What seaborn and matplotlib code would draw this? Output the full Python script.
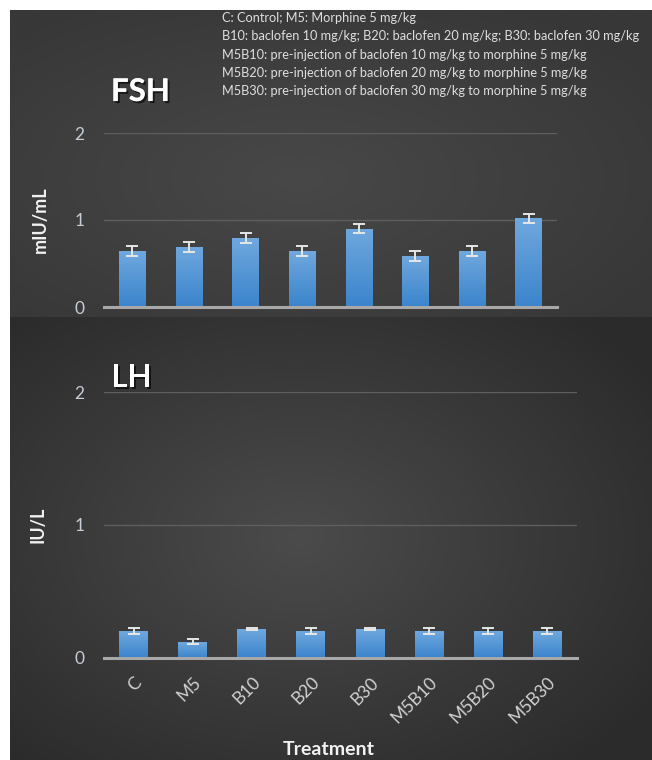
import numpy as np
import matplotlib
matplotlib.use("Agg")
import matplotlib.pyplot as plt
import matplotlib.colors as mcolors
import matplotlib.patheffects as pe
import seaborn as sns

# data
treatments = ["C", "M5", "B10", "B20", "B30", "M5B10", "M5B20", "M5B30"]
fsh_mean = [0.64, 0.69, 0.79, 0.64, 0.90, 0.585, 0.64, 1.02]
fsh_sem = [0.058, 0.056, 0.056, 0.058, 0.055, 0.056, 0.058, 0.052]
lh_mean = [0.20, 0.12, 0.213, 0.20, 0.213, 0.20, 0.20, 0.20]
lh_sem = [0.02, 0.018, 0.006, 0.02, 0.006, 0.02, 0.02, 0.02]
notes = [
    "C: Control; M5: Morphine 5 mg/kg",
    "B10: baclofen 10 mg/kg; B20: baclofen 20 mg/kg; B30: baclofen 30 mg/kg",
    "M5B10: pre-injection of baclofen 10 mg/kg to morphine 5 mg/kg",
    "M5B20: pre-injection of baclofen 20 mg/kg to morphine 5 mg/kg",
    "M5B30: pre-injection of baclofen 30 mg/kg to morphine 5 mg/kg",
]

plt.rcParams["font.family"] = ["Lato", "DejaVu Sans"]

W, H = 652, 760
fig = plt.figure(figsize=(W / 100, H / 100), dpi=100)
fig.patch.set_facecolor("white")


def px(x0, y0, x1, y1):
    # pixel box (top-left origin) -> figure fraction rect
    return [x0 / W, 1 - y1 / H, (x1 - x0) / W, (y1 - y0) / H]


def backdrop(box, inner, outer, cx=0.0, cy=0.0):
    bg = fig.add_axes(px(*box), zorder=0)
    yy, xx = np.mgrid[-1:1:300j, -1:1:300j]
    r = np.clip(np.sqrt((xx - cx) ** 2 + (yy - cy) ** 2) / 1.35, 0, 1)
    c0 = np.array(mcolors.to_rgb(inner))
    c1 = np.array(mcolors.to_rgb(outer))
    bg.imshow(c0 + (c1 - c0) * r[..., None], aspect="auto", extent=[0, 1, 0, 1])
    bg.axis("off")


backdrop((10, 10, 652, 317), "#484848", "#373737", cx=-0.1, cy=0.1)
backdrop((10, 317, 652, 760), "#4b4b4b", "#2b2b2b", cx=-0.1, cy=0.0)

grad = np.linspace(0, 1, 100)[:, None]
bar_cmap = mcolors.LinearSegmentedColormap.from_list("bar", ["#6fa8de", "#3b84cc"])


def panel(box, means, sems, width, ylabel, show_x):
    ax = fig.add_axes(px(*box), zorder=2)
    ax.patch.set_alpha(0)
    sns.barplot(x=treatments, y=means, color="#4f92d6", width=width,
                saturation=1, edgecolor="none", ax=ax)
    # gradient fill on each bar
    for bar in ax.patches:
        x0, y0 = bar.get_x(), bar.get_y()
        im = ax.imshow(grad, cmap=bar_cmap, aspect="auto", zorder=2,
                       extent=[x0, x0 + bar.get_width(), y0, y0 + bar.get_height()])
        im.set_clip_path(bar)
    ax.errorbar(range(len(treatments)), means, yerr=sems, fmt="none",
                ecolor="#e6e6e6", elinewidth=1.4, capsize=4.5, capthick=1.4, zorder=3)
    ax.set_xlim(-0.5, len(treatments) - 0.5)
    ax.set_ylim(0, 2)
    ax.set_yticks([0, 1, 2])
    ax.grid(axis="y", color="#5e5e5e", lw=1)
    ax.grid(axis="x", visible=False)
    ax.set_axisbelow(True)
    for s in ["top", "right", "left"]:
        ax.spines[s].set_visible(False)
    ax.spines["bottom"].set_color("#a8a8a8")
    ax.spines["bottom"].set_linewidth(2.2)
    ax.spines["bottom"].set_zorder(4)
    ax.tick_params(axis="y", length=0, pad=14, labelsize=12.5, labelcolor="#c6cdd6")
    ax.tick_params(axis="x", length=0, labelsize=12.5, labelcolor="#d2d2d2", pad=12)
    ax.set_ylabel(ylabel, fontsize=13, fontweight="bold", color="#f2f2f2")
    ax.yaxis.set_label_coords(-0.122, 0.5)
    if show_x:
        plt.setp(ax.get_xticklabels(), rotation=45, ha="right", rotation_mode="anchor")
        ax.set_xlabel("Treatment", fontsize=14, fontweight="bold", color="#f2f2f2", labelpad=4)
        ax.xaxis.set_label_coords(0.475, -0.315)
    else:
        ax.set_xticklabels([])
        ax.set_xlabel("")
    return ax


ax_fsh = panel((104, 133, 557, 307), fsh_mean, fsh_sem, 0.47, "mIU/mL", False)
ax_lh = panel((104, 392, 577, 657.5), lh_mean, lh_sem, 0.49, "IU/L", True)

shadow = [pe.withSimplePatchShadow(offset=(1.5, -1.5), shadow_rgbFace="black", alpha=0.6), pe.Normal()]
fig.text(111 / W, 1 - 92 / H, "FSH", fontsize=22.5, fontweight="bold", color="white",
         va="center", ha="left", path_effects=shadow, zorder=5)
fig.text(111 / W, 1 - 378 / H, "LH", fontsize=22.5, fontweight="bold", color="white",
         va="center", ha="left", path_effects=shadow, zorder=5)

for i, line in enumerate(notes):
    fig.text(222 / W, 1 - (18 + 18.3 * i) / H, line, fontsize=9.2, color="#dedede",
             va="center", ha="left", zorder=5)

fig.savefig("out.png", dpi=100)
